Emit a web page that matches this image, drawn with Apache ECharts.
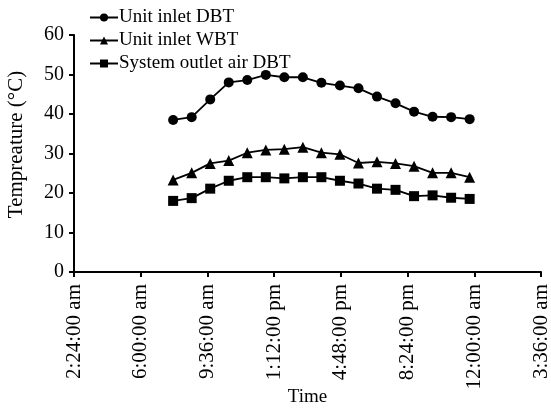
<!DOCTYPE html>
<html>
<head>
<meta charset="utf-8">
<script src="https://cdn.jsdelivr.net/npm/echarts@6/dist/echarts.min.js"></script>
<style>
  html, body { margin: 0; padding: 0; background: #fff; }
  #chart { width: 551px; height: 408px; }
</style>
</head>
<body>
<div id="chart"></div>
<script>
// sample times (24h clock), one reading per hour
const times = ['7:45', '8:45', '9:45', '10:45', '11:45', '12:45', '13:45', '14:45', '15:45',
  '16:45', '17:45', '18:45', '19:45', '20:45', '21:45', '22:45', '23:45']
const inletDBT = [38.5, 39.2, 43.7, 48.0, 48.6, 49.9, 49.3, 49.3, 47.9, 47.2, 46.5, 44.4, 42.7, 40.6, 39.3, 39.2, 38.7]
const inletWBT = [23.3, 25.1, 27.5, 28.2, 30.2, 30.9, 31.1, 31.6, 30.2, 29.8, 27.6, 27.9, 27.5, 26.8, 25.1, 25.1, 24.0]
const outletDBT = [18.0, 18.7, 21.1, 23.1, 24.0, 24.0, 23.7, 24.0, 24.0, 23.1, 22.4, 21.1, 20.8, 19.2, 19.4, 18.8, 18.5]
const yTicks = [0, 10, 20, 30, 40, 50, 60]
// x axis starts at 2:24 am and steps by 3.6 h
const xStart = 2.4
const xStep = 3.6
const xCount = 7

const font = "'Liberation Serif', 'Times New Roman', serif"

function toHours(t) {
  const p = t.split(':')
  return +p[0] + (+p[1]) / 60
}

function fmtTime(v) {
  let mins = Math.round((v + xStart) * 60) % (24 * 60)
  let h = Math.floor(mins / 60)
  const m = mins % 60
  const ap = h < 12 ? 'am' : 'pm'
  h = h % 12
  if (h === 0) h = 12
  return h + ':' + String(m).padStart(2, '0') + ':00 ' + ap
}

function pairs(vals) {
  return vals.map((v, i) => [toHours(times[i]) - xStart, v])
}

const chart = echarts.init(document.getElementById('chart'))

const lineStyle = { color: '#000', width: 1.8 }
const mk = (name, vals, symbol, size) => ({
  name: name,
  type: 'line',
  data: pairs(vals),
  symbol: symbol,
  symbolSize: size,
  itemStyle: { color: '#000' },
  lineStyle: lineStyle,
  animation: false
})

chart.setOption({
  animation: false,
  textStyle: { fontFamily: font },
  legend: {
    orient: 'vertical',
    left: 84,
    top: 3,
    itemWidth: 28,
    itemHeight: 10,
    itemGap: 4,
    textStyle: { fontFamily: font, fontSize: 19, color: '#000', padding: [0, 0, 0, -4] },
    data: ['Unit inlet DBT', 'Unit inlet WBT', 'System outlet air DBT']
  },
  grid: {
    left: 74,
    right: 10,
    top: 35,
    bottom: 136,
    containLabel: false,
    outerBoundsMode: 'none'
  },
  xAxis: {
    type: 'value',
    min: 0,
    max: xStep * xCount,
    interval: xStep,
    name: 'Time',
    nameLocation: 'middle',
    nameGap: 116,
    nameMoveOverlap: false,
    nameTextStyle: { fontFamily: font, fontSize: 19, color: '#000' },
    splitLine: { show: false },
    axisLine: { lineStyle: { color: '#000', width: 2 } },
    axisTick: { inside: false, length: 5, lineStyle: { color: '#000', width: 2 } },
    axisLabel: {
      rotate: 90,
      margin: 12,
      fontFamily: font,
      fontSize: 21,
      color: '#000',
      formatter: fmtTime
    }
  },
  yAxis: {
    type: 'value',
    min: yTicks[0],
    max: yTicks[yTicks.length - 1],
    interval: 10,
    name: 'Tempreature (°C)',
    nameLocation: 'middle',
    nameGap: 47,
    nameTextStyle: { fontFamily: font, fontSize: 21, color: '#000', padding: [0, 0, 0, 18] },
    splitLine: { show: false },
    axisLine: { show: true, lineStyle: { color: '#000', width: 2 } },
    axisTick: { show: true, inside: false, length: 5, lineStyle: { color: '#000', width: 2 } },
    axisLabel: { margin: 10, fontFamily: font, fontSize: 20, color: '#000' }
  },
  series: [
    mk('Unit inlet DBT', inletDBT, 'circle', 10),
    mk('Unit inlet WBT', inletWBT, 'triangle', 11),
    mk('System outlet air DBT', outletDBT, 'rect', 10)
  ]
})
</script>
</body>
</html>
